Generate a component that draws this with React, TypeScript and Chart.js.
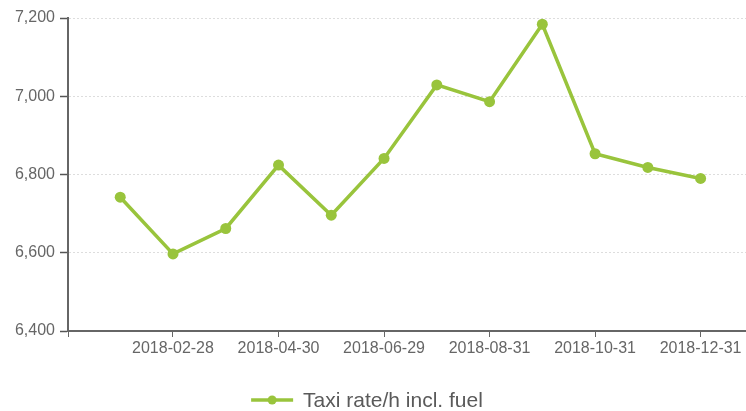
import React, { useEffect, useRef } from "react";
import { Chart, registerables } from "chart.js";

Chart.register(...registerables);

const dates = [
  "2018-01-31", "2018-02-28", "2018-03-30", "2018-04-30", "2018-05-31", "2018-06-29",
  "2018-07-31", "2018-08-31", "2018-09-28", "2018-10-31", "2018-11-30", "2018-12-31",
];
const taxiRate = [6742, 6597, 6662, 6824, 6696, 6841, 7029, 6986, 7184, 6853, 6818, 6790];
const seriesName = "Taxi rate/h incl. fuel";
const yTicks = [6400, 6600, 6800, 7000, 7200];

const GREEN = "#99c43c";
const TEXT = "#666666";
const FONT = "'Liberation Sans', Arial, sans-serif";
const VIEW_W = 746;

const bottomLegend = {
  id: "bottomLegend",
  afterDraw(chart: any) {
    const ctx = chart.ctx;
    const ds = chart.data.datasets[0];
    ctx.save();
    ctx.font = `21px ${FONT}`;
    const tw = ctx.measureText(ds.label).width;
    const lineW = 42;
    const gap = 10;
    const total = lineW + gap + tw;
    const x0 = (VIEW_W - total) / 2 - 6;
    const y = 400;
    ctx.strokeStyle = ds.borderColor;
    ctx.lineWidth = 3.5;
    ctx.beginPath();
    ctx.moveTo(x0, y);
    ctx.lineTo(x0 + lineW, y);
    ctx.stroke();
    ctx.fillStyle = ds.borderColor;
    ctx.beginPath();
    ctx.arc(x0 + lineW / 2, y, 4.5, 0, Math.PI * 2);
    ctx.fill();
    ctx.fillStyle = "#5a5a5a";
    ctx.textAlign = "left";
    ctx.textBaseline = "middle";
    ctx.fillText(ds.label, x0 + lineW + gap, y + 1);
    ctx.restore();
  },
};

export default function App() {
  const ref = useRef<HTMLCanvasElement>(null);
  useEffect(() => {
    document.body.style.margin = "0";
    const points = taxiRate.map((v, i) => ({ x: i, y: v }));
    const chart = new Chart(ref.current!, {
      type: "line",
      data: {
        datasets: [
          {
            label: seriesName,
            data: points,
            borderColor: GREEN,
            backgroundColor: GREEN,
            borderWidth: 3.5,
            pointRadius: 5.5,
            pointBackgroundColor: GREEN,
            pointBorderColor: GREEN,
            pointBorderWidth: 0,
            tension: 0,
          },
        ],
      },
      options: {
        animation: false,
        responsive: false,
        maintainAspectRatio: false,
        layout: { padding: { top: 18, right: 0, left: 0, bottom: 50 } },
        plugins: {
          tooltip: { enabled: false },
          legend: { display: false },
        },
        scales: {
          x: {
            type: "linear",
            min: -0.99,
            max: 11.87,
            afterBuildTicks: (scale: any) => {
              scale.ticks = [{ value: -0.99 }].concat(
                dates.map((_, i) => i).filter((i) => i % 2 === 1).map((i) => ({ value: i }))
              );
            },
            afterFit: (scale: any) => {
              scale.height = 30;
            },
            ticks: {
              autoSkip: false,
              maxRotation: 0,
              padding: 2,
              color: TEXT,
              font: { family: FONT, size: 16 },
              callback: (value: any) => {
                const i = Math.round(Number(value));
                return Number.isInteger(Number(value)) && dates[i] ? dates[i] : "";
              },
            },
            grid: {
              display: true,
              drawOnChartArea: false,
              drawTicks: true,
              tickLength: 6,
              tickColor: "#666666",
              tickWidth: 1,
            },
            border: { display: true, color: "#666666", width: 2 },
          },
          y: {
            type: "linear",
            min: 6400,
            max: 7200,
            afterBuildTicks: (scale: any) => {
              scale.ticks = yTicks.map((v) => ({ value: v }));
            },
            afterFit: (scale: any) => {
              scale.width = 68;
            },
            ticks: {
              padding: 5,
              color: TEXT,
              font: { family: FONT, size: 16 },
              callback: (value: any) => Number(value).toLocaleString("en-US"),
            },
            grid: {
              display: true,
              drawOnChartArea: true,
              drawTicks: true,
              tickLength: 8,
              color: "#dddddd",
              lineWidth: 1,
              tickColor: "#555555",
              tickWidth: 1.5,
            },
            border: { display: true, color: "#666666", width: 2, dash: [2, 2] },
          },
        },
      },
      plugins: [bottomLegend],
    });
    return () => chart.destroy();
  }, []);
  return (
    <div style={{ width: VIEW_W, height: 411, overflow: "hidden" }}>
      <canvas ref={ref} width={752} height={411} style={{ display: "block" }} />
    </div>
  );
}
